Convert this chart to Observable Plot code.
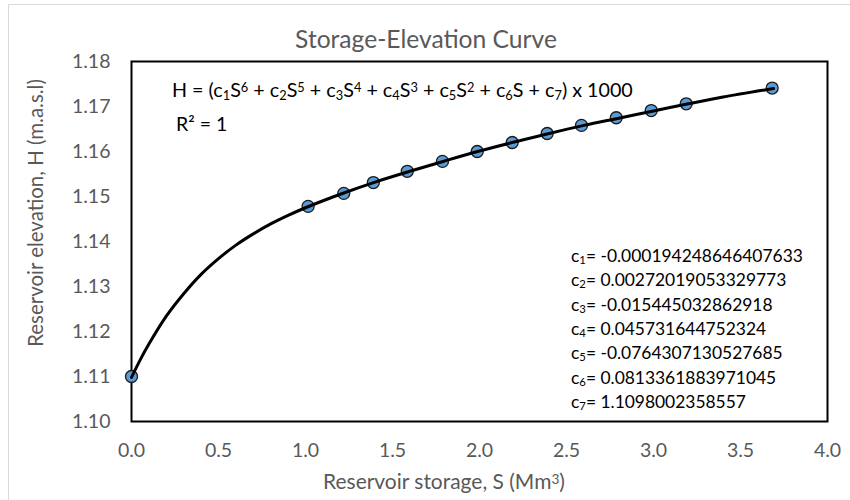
<!DOCTYPE html>
<html>
<head>
<meta charset="utf-8">
<script src="https://cdn.jsdelivr.net/npm/d3@7"></script>
<script src="https://cdn.jsdelivr.net/npm/@observablehq/plot@0.6"></script>
<style>
  html, body { margin: 0; padding: 0; background: #fff; }
  body { width: 850px; height: 500px; overflow: hidden; position: relative; font-family: Lato, "Open Sans", sans-serif; }
  #border { position: absolute; left: 8px; top: 4px; width: 900px; height: 600px; border: 1px solid #d9d9d9; box-sizing: border-box; }
  #chart { position: absolute; left: 0; top: 0; }
</style>
</head>
<body>
<div id="border"></div>
<div id="chart"></div>
<script>
// Observed data points: storage S (Mm3) and elevation H (thousand m.a.s.l)
const storage = [0, 1.015, 1.22, 1.39, 1.585, 1.787, 1.987, 2.188, 2.389, 2.586, 2.786, 2.987, 3.188, 3.682];
const elevation = [1.1100, 1.1478, 1.1507, 1.1531, 1.1556, 1.1578, 1.1600, 1.1620, 1.1640, 1.1658, 1.1675, 1.1691, 1.1706, 1.1741];

// Trendline
const trendS = [0, 0.05, 0.1, 0.2, 0.3, 0.4, 0.5, 0.6, 0.7, 0.8, 0.9, 1.0, 1.2, 1.4, 1.6, 1.8, 2.0, 2.2, 2.4, 2.6, 2.8, 3.0, 3.2, 3.4, 3.69];
const trendH = [1.1098, 1.1137, 1.1172, 1.1234, 1.1284, 1.1327, 1.1362, 1.1392, 1.1417, 1.1439, 1.1458, 1.1475, 1.1505, 1.1532, 1.1556, 1.1579, 1.1601, 1.1621, 1.1640, 1.1658, 1.1674, 1.1690, 1.1706, 1.1721, 1.1740];

const xTicks = [0, 0.5, 1.0, 1.5, 2.0, 2.5, 3.0, 3.5, 4.0];
const yTicks = [1.10, 1.11, 1.12, 1.13, 1.14, 1.15, 1.16, 1.17, 1.18];

const titleText = "Storage-Elevation Curve";
const xTitle = "Reservoir storage, S (Mm";
const yTitle = "Reservoir elevation, H (m.a.s.l)";
const coefNames = ["1", "2", "3", "4", "5", "6", "7"];
const coefValues = ["-0.000194248646407633", "0.00272019053329773", "-0.015445032862918", "0.045731644752324", "-0.0764307130527685", "0.0813361883971045", "1.1098002358557"];

const points = storage.map((s, i) => ({s, h: elevation[i]}));
const trend = trendS.map((s, i) => ({s, h: trendH[i]}));

const chart = Plot.plot({
  width: 850,
  height: 500,
  marginLeft: 131,
  marginRight: 23,
  marginTop: 61,
  marginBottom: 79,
  style: {fontFamily: "Lato, 'Open Sans', sans-serif", fontSize: "19.5px", color: "#595959", background: "transparent"},
  x: {domain: [0, 4], ticks: xTicks, tickFormat: d3.format(".1f"), label: null},
  y: {domain: [1.10, 1.18], ticks: yTicks, tickFormat: d3.format(".2f"), label: null},
  marks: [
    Plot.axisX({ticks: xTicks, tickFormat: d3.format(".1f"), tickSize: 0, tickPadding: 22, label: null, fill: "#595959"}),
    Plot.axisY({ticks: yTicks, tickFormat: d3.format(".2f"), tickSize: 0, tickPadding: 21, label: null, fill: "#595959"}),
    Plot.frame({stroke: "#000", strokeWidth: 2}),
    Plot.dot(points, {x: "s", y: "h", r: 6, fill: "#5b9bd5", stroke: "#1a1a1a", strokeWidth: 1.3}),
    Plot.line(trend, {x: "s", y: "h", stroke: "#000", strokeWidth: 3, curve: "catmull-rom"})
  ]
});

document.getElementById("chart").appendChild(chart);

const svg = d3.select(chart);
const ann = svg.append("g").attr("font-family", "Lato, 'Open Sans', sans-serif");

function rich(x, y, parts, opts = {}) {
  const t = ann.append("text")
    .attr("x", x).attr("y", y)
    .attr("font-size", opts.size || 19.5)
    .attr("fill", opts.fill || "#000")
    .attr("text-anchor", opts.anchor || "start");
  if (opts.rotate) t.attr("transform", `rotate(${opts.rotate} ${x} ${y})`);
  for (const [str, kind] of parts) {
    const sp = t.append("tspan").text(str);
    if (kind === "sub") sp.attr("baseline-shift", "-22%").attr("font-size", "65%");
    if (kind === "sup") sp.attr("baseline-shift", "38%").attr("font-size", "65%");
  }
  return t;
}

// scale a text's font size so its length matches the reference span
function fit(t, target) {
  const w = t.node().getBBox().width;
  const s = +t.attr("font-size");
  if (w > 0) t.attr("font-size", s * target / w);
  return +t.attr("font-size");
}

// Title
fit(rich(426, 48, [[titleText]], {size: 25, fill: "#595959", anchor: "middle"}), 262);
// Axis titles
fit(rich(444, 489, [[xTitle], ["3", "sup"], [")"]], {size: 18.5, fill: "#595959", anchor: "middle"}), 242);
fit(rich(43, 213, [[yTitle]], {size: 18.5, fill: "#595959", anchor: "middle", rotate: -90}), 268);

// Equation
fit(rich(172, 97, [
  ["H = (c"], ["1", "sub"], ["S"], ["6", "sup"], [" + c"], ["2", "sub"], ["S"], ["5", "sup"],
  [" + c"], ["3", "sub"], ["S"], ["4", "sup"], [" + c"], ["4", "sub"], ["S"], ["3", "sup"],
  [" + c"], ["5", "sub"], ["S"], ["2", "sup"], [" + c"], ["6", "sub"], ["S + c"], ["7", "sub"], [") x 1000"]
]), 461);
rich(176, 131, [["R² = 1"]]);

// Coefficients
const coefLines = coefNames.map((n, i) =>
  rich(571, 262 + i * 24.3, [["c"], [n, "sub"], ["= " + coefValues[i]]], {size: 18}));
const cs = fit(coefLines[0], 232);
coefLines.forEach(t => t.attr("font-size", cs));
</script>
</body>
</html>
